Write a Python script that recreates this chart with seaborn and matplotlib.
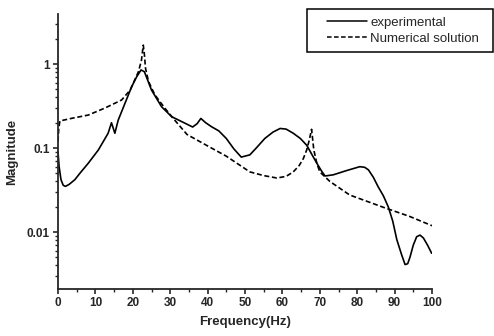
import numpy as np
import pandas as pd
import matplotlib
matplotlib.use("Agg")
import matplotlib.pyplot as plt
from matplotlib.ticker import FixedLocator, FixedFormatter, LogLocator, NullFormatter, MultipleLocator
from matplotlib.lines import Line2D
from matplotlib.patches import Rectangle
import seaborn as sns

exp_freq = [0, 0.3, 0.8, 1.4, 2.0, 3.0, 4.5, 6.0, 8.1, 10.8, 13.4, 14.3, 15.2, 16.1, 17.9,
            19.7, 21.0, 22.2, 23.1, 25.0, 27.7, 30.4, 34.0, 36.0, 37.2, 38.2, 39.5, 41.0,
            43.0, 45.0, 47.0, 49.0, 51.3, 53.0, 55.3, 57.5, 59.4, 61.0, 62.9, 64.8, 66.5,
            68.0, 69.2, 70.5, 71.4, 73.6, 77.2, 80.7, 82.0, 83.0, 84.3, 85.6, 87.0, 88.3,
            89.5, 90.6, 91.8, 92.8, 93.5, 94.1, 95.0, 95.9, 96.8, 97.7, 98.8, 99.9]
exp_mag = [0.09, 0.06, 0.042, 0.036, 0.035, 0.037, 0.042, 0.051, 0.066, 0.095, 0.15, 0.2,
           0.15, 0.215, 0.34, 0.537, 0.7, 0.85, 0.81, 0.49, 0.31, 0.236, 0.197, 0.178, 0.195,
           0.225, 0.2, 0.18, 0.16, 0.13, 0.098, 0.078, 0.083, 0.1, 0.13, 0.155, 0.171, 0.168,
           0.15, 0.13, 0.108, 0.082, 0.066, 0.053, 0.0465, 0.048, 0.054, 0.06, 0.059, 0.055,
           0.045, 0.0346, 0.027, 0.02, 0.0135, 0.0081, 0.0055, 0.0041, 0.0042, 0.005, 0.007,
           0.0088, 0.0092, 0.0085, 0.007, 0.0056]

num_freq = [0, 0.2, 0.5, 3.7, 8.1, 12.6, 17.0, 19.3, 21.5, 22.3, 22.8, 23.1, 23.4, 24.2, 25.9,
            28.6, 31.0, 34.5, 40.0, 45.0, 51.3, 55.0, 58.5, 61.0, 62.9, 64.5, 65.6, 66.5,
            67.2, 67.8, 68.4, 69.2, 70.0, 72.7, 78.0, 87.0, 94.1, 100.0]
num_mag = [0.12, 0.17, 0.21, 0.226, 0.247, 0.3, 0.373, 0.49, 0.81, 1.1, 1.68, 1.3, 0.89,
           0.62, 0.43, 0.297, 0.22, 0.145, 0.106, 0.08, 0.052, 0.047, 0.044, 0.046, 0.052,
           0.062, 0.075, 0.095, 0.125, 0.167, 0.095, 0.066, 0.052, 0.04, 0.0276, 0.0197,
           0.0153, 0.0119]

series_names = ["experimental", "Numerical solution"]
yticks = [0.01, 0.1, 1]
ytick_labels = ["0.01", "0.1", "1"]

df = pd.concat([
    pd.DataFrame({"Frequency": exp_freq, "Magnitude": exp_mag, "series": series_names[0]}),
    pd.DataFrame({"Frequency": num_freq, "Magnitude": num_mag, "series": series_names[1]}),
])

sns.set_style("ticks")
plt.rcParams['font.family'] = ['Liberation Sans', 'DejaVu Sans']

fig = plt.figure(figsize=(4.94, 3.36), dpi=100)
ax = fig.add_axes([58/494, 47/336, (432-58)/494, (289-14)/336])

sns.lineplot(data=df, x="Frequency", y="Magnitude", hue="series", style="series",
             palette=["black", "black"], dashes=[(None, None), (3, 1.6)],
             linewidth=1.2, ax=ax, legend=False, sort=False, estimator=None)

ax.set_yscale("log")
ax.set_xlim(0, 100)
ax.set_ylim(0.0021, 3.94)
ax.xaxis.set_major_locator(MultipleLocator(10))
ax.xaxis.set_minor_locator(MultipleLocator(5))
ax.yaxis.set_major_locator(FixedLocator(yticks))
ax.yaxis.set_major_formatter(FixedFormatter(ytick_labels))
ax.yaxis.set_minor_locator(LogLocator(base=10, subs=np.arange(2, 10)))
ax.yaxis.set_minor_formatter(NullFormatter())
ax.tick_params(which="major", direction="out", length=3.5, width=1.2, labelsize=8.5, pad=2.5)
ax.tick_params(which="minor", direction="out", length=2, width=1)
for lbl in ax.get_xticklabels() + ax.get_yticklabels():
    lbl.set_fontweight("bold")
for s in ["left", "bottom"]:
    ax.spines[s].set_linewidth(1.3)
sns.despine(ax=ax)

ax.set_xlabel("Frequency(Hz)", fontsize=9.5, fontweight="bold", labelpad=5)
ax.set_ylabel("Magnitude", fontsize=9.5, fontweight="bold", labelpad=6)

# legend box frame (figure pixel coords)
fig.patches.append(Rectangle((307/494, 1 - 52/336), (493 - 307)/494, (52 - 9)/336,
                             transform=fig.transFigure, fill=False, edgecolor="black",
                             linewidth=1.1))
handles = [Line2D([], [], color="black", lw=1.1),
           Line2D([], [], color="black", lw=1.1, dashes=(3, 1.6))]
leg = fig.legend(handles, series_names, loc="upper left", bbox_to_anchor=(322/494, 1 - 11/336),
                 frameon=False, fontsize=9.5,
                 handlelength=3.0, handletextpad=0.25, borderpad=0.4, labelspacing=0.3,
                 borderaxespad=0)

fig.savefig("out.png", dpi=100)
